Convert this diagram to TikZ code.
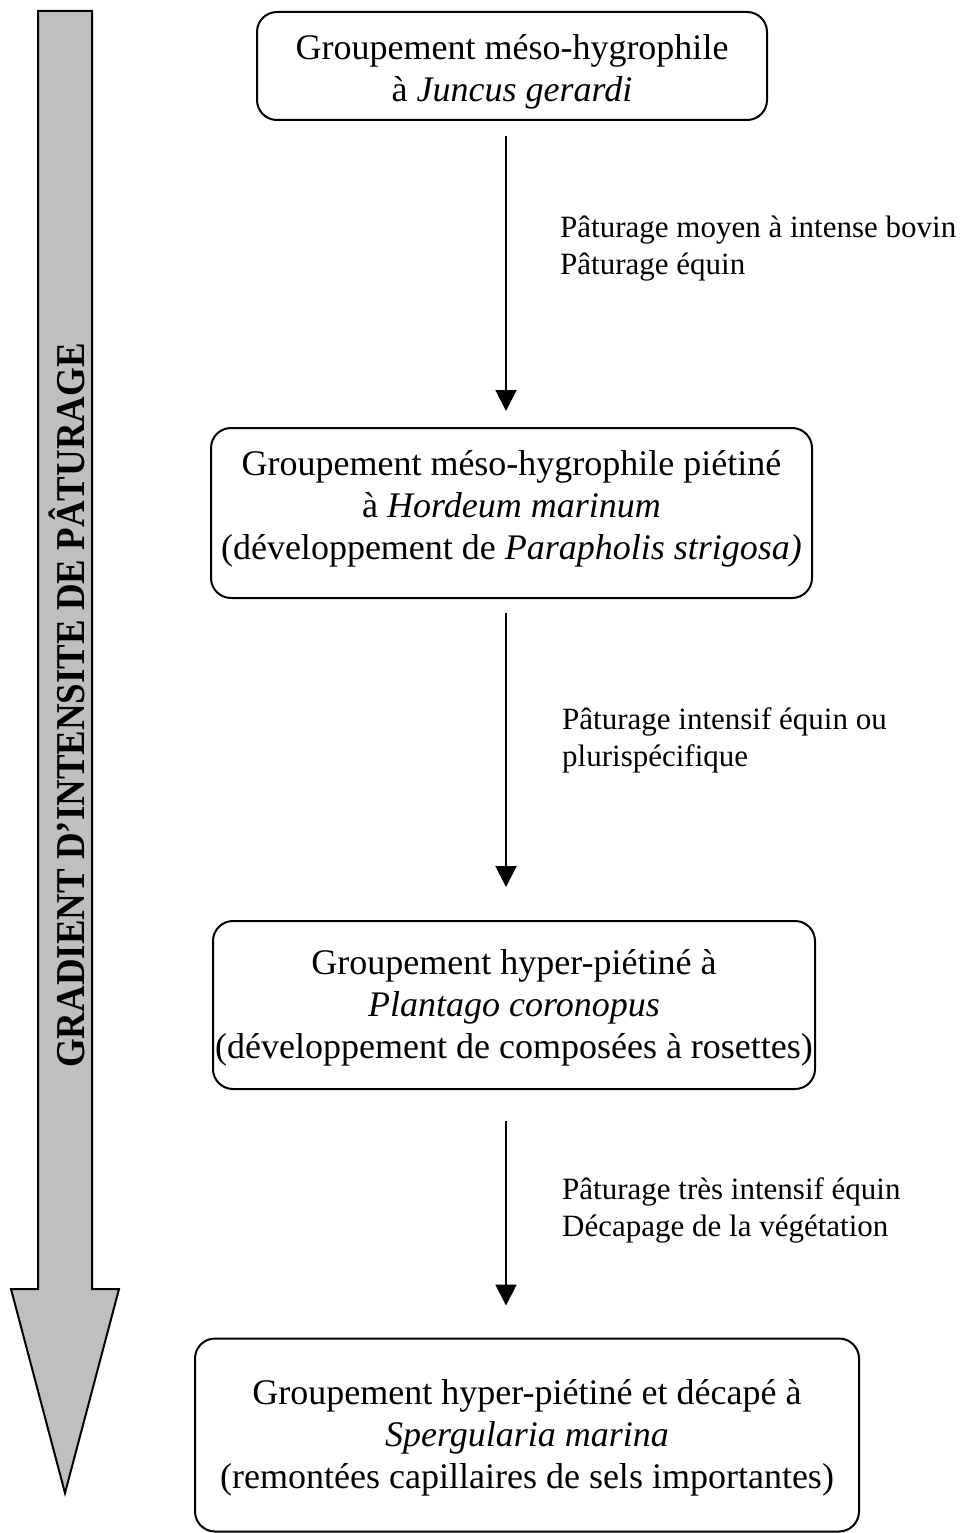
\documentclass[tikz,border=0pt]{standalone}
\usepackage{fontspec}
\setmainfont{Liberation Serif}
\usetikzlibrary{arrows.meta}
\newcommand\mytop[1]{\rule{0pt}{#1pt}}
\newcommand\mybot[1]{\rule[-#1pt]{0pt}{#1pt}}
\begin{document}
\begin{tikzpicture}[x=1pt,y=-1pt,
  box/.style={draw,line width=2pt,rounded corners=20pt,align=center,inner sep=0pt,
    font=\fontsize{36}{42}\selectfont},
  conn/.style={line width=2pt,-{Triangle[width=21pt,length=21pt]}},
  lab/.style={anchor=west,align=left,inner sep=0pt,font=\fontsize{31}{37}\selectfont},
  bigarrow/.style={draw,line width=2pt,fill=black!25,line join=miter}]
\useasboundingbox (0,0) rectangle (959,1533);
% big gradient arrow
\draw[bigarrow] (38,11) -- (92,11) -- (92,1289) -- (119,1289) -- (65,1493) -- (11,1289) -- (38,1289) -- cycle;
\node[rotate=90,inner sep=0pt,font=\fontsize{41}{41}\selectfont\bfseries] (grad) at (66.5,705.5)
  {\scalebox{0.9}[1]{GRADIENT D’INTENSITE DE PÂTURAGE}};
% boxes
\node[box,minimum width=510pt,minimum height=108pt] (b1) at (512,66)
  {\mytop{40}Groupement méso-hygrophile\\à \textit{Juncus gerardi}\mybot{10}};
\node[box,minimum width=601pt,minimum height=170pt] (b2) at (511.5,513)
  {\mytop{28}Groupement méso-hygrophile piétiné\\à \textit{Hordeum marinum}\\(développement de \textit{Parapholis strigosa)}\mybot{20}};
\node[box,minimum width=602pt,minimum height=168pt] (b3) at (514,1005)
  {\mytop{32}Groupement hyper-piétiné à\\\textit{Plantago coronopus}\\(développement de composées à rosettes)\mybot{10}};
\node[box,minimum width=664pt,minimum height=193pt] (b4) at (527,1435)
  {\mytop{32}Groupement hyper-piétiné et décapé à\\\textit{Spergularia marina}\\(remontées capillaires de sels importantes)\mybot{10}};
% connectors
\coordinate (ax) at (506,0);
\draw[conn,shorten <=15pt,shorten >=16pt] (b1.south -| ax) -- (b2.north -| ax);
\draw[conn,shorten <=14pt,shorten >=33pt] (b2.south -| ax) -- (b3.north -| ax);
\draw[conn,shorten <=31pt,shorten >=32pt] (b3.south -| ax) -- (b4.north -| ax);
% labels
\node[lab] (l1) at (560,245.5) {\mytop{30}Pâturage moyen à intense bovin\\Pâturage équin\mybot{10}};
\node[lab] (l2) at (562,737.5) {\mytop{30}Pâturage intensif équin ou\\plurispécifique\mybot{10}};
\node[lab] (l3) at (562,1207.5) {\mytop{30}Pâturage très intensif équin\\Décapage de la végétation\mybot{10}};
\end{tikzpicture}
\end{document}
